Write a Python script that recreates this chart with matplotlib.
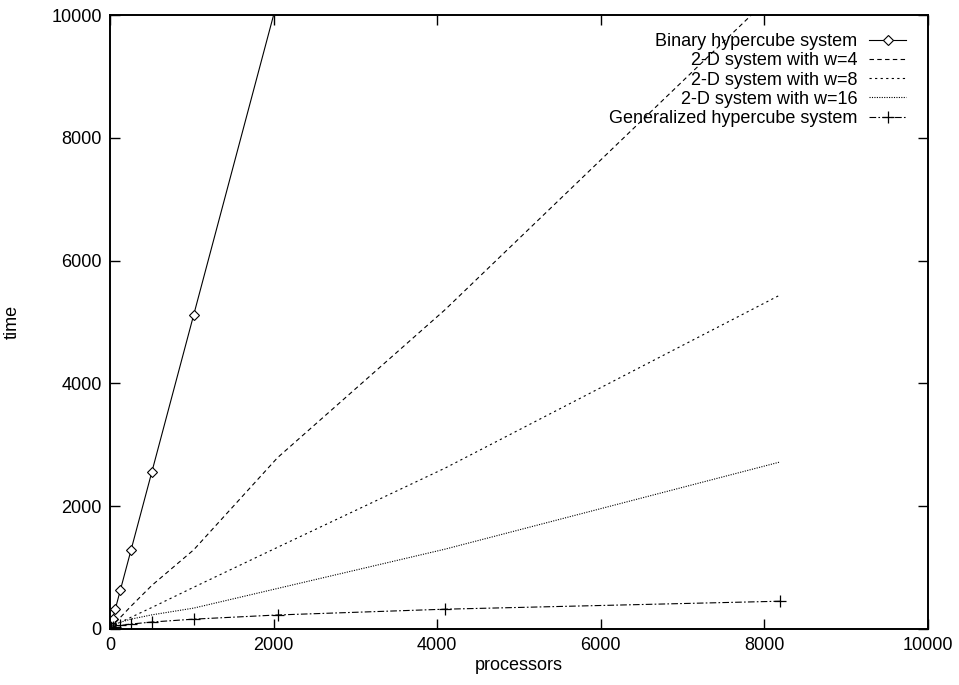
import matplotlib
matplotlib.use("Agg")
import matplotlib.pyplot as plt

plt.rcParams['font.family'] = ['Liberation Sans', 'DejaVu Sans']

processors = [2, 4, 8, 16, 32, 64, 128, 256, 512, 1024, 2048, 4096, 8192]

binary_time = [10, 20, 40, 80, 160, 320, 640, 1280, 2560, 5120, 10240, 20480, 40960]
w4_time = [8, 15, 25, 40, 70, 110, 190, 370, 710, 1290, 2790, 5200, 10450]
w8_time = [5, 10, 20, 30, 45, 70, 110, 190, 350, 680, 1330, 2620, 5440]
w16_time = [5, 10, 20, 35, 55, 80, 110, 160, 230, 340, 660, 1300, 2720]
gen_time = [7, 10, 14, 20, 28, 40, 57, 80, 113, 160, 228, 322, 452]

labels = ["Binary hypercube system", "2-D system with w=4", "2-D system with w=8",
          "2-D system with w=16", "Generalized hypercube system"]

FS = 13


def graficar():
    fig = plt.figure(figsize=(9.59, 6.85), dpi=100)
    ax = fig.add_axes([0.1147, 0.0818, 0.853, 0.8963])
    lw = 0.8
    ax.plot(processors, binary_time, color='black', lw=lw, marker='D', ms=5.5,
            mfc='white', mec='black', mew=0.8, label=labels[0])
    ax.plot(processors, w4_time, color='black', lw=lw, dashes=(4, 3), label=labels[1])
    ax.plot(processors, w8_time, color='black', lw=lw, dashes=(2, 3), label=labels[2])
    ax.plot(processors, w16_time, color='black', lw=lw, dashes=(1, 1.2), label=labels[3])
    ax.plot(processors, gen_time, color='black', lw=lw, dashes=(6, 2, 1.5, 2),
            marker='+', ms=9, mew=0.9, label=labels[4])

    ax.set_xlim(0, 10000)
    ax.set_ylim(0, 10000)
    ax.set_xticks(range(0, 10001, 2000))
    ax.set_yticks(range(0, 10001, 2000))
    ax.tick_params(direction='in', length=7, width=1, top=True, right=True,
                   labelsize=FS, pad=6)
    for s in ax.spines.values():
        s.set_linewidth(1.4)
    ax.set_xlabel('processors', fontsize=FS, labelpad=2)
    ax.set_ylabel('time', fontsize=FS, labelpad=22)

    ax.legend(loc='upper right', bbox_to_anchor=(0.982, 0.982), frameon=False,
              markerfirst=False, fontsize=FS, handlelength=2.05, handletextpad=0.65,
              labelspacing=0.12, borderaxespad=0)
    fig.savefig('out.png', dpi=100)


def main():
    graficar()


if __name__ == "__main__":
    main()
